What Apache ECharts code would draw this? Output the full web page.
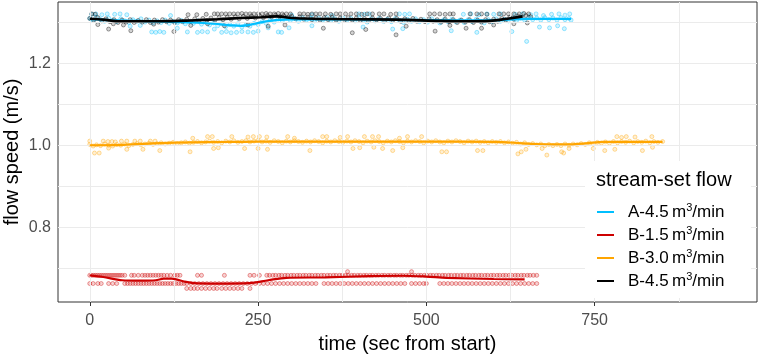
<!DOCTYPE html>
<html>
<head>
<meta charset="utf-8">
<script src="https://cdn.jsdelivr.net/npm/echarts@6/dist/echarts.min.js"></script>
<style>
  html, body { margin: 0; padding: 0; background: #fff; }
  #chart { width: 759px; height: 356px; }
</style>
</head>
<body>
<div id="chart"></div>
<script>
// axis ticks (ggplot-like: major + minor grid)
const xTicks = [0, 250, 500, 750];
const xMinor = [125, 375, 625, 875];
const yTicks = [0.8, 1.0, 1.2];
const yMinor = [0.7, 0.9, 1.1, 1.3];

const names = ['A-4.5', 'B-1.5', 'B-3.0', 'B-4.5'];
const colors = ['#00BFFF', '#CD0000', '#FFA500', '#000000'];

// A-4.5 points [time, speed]
const ptsA45 = [
  [0,1.309],[5,1.304],[10,1.312],[16,1.306],[22,1.302],[28,1.310],[34,1.305],[40,1.301],[46,1.308],[52,1.303],
  [58,1.299],[64,1.306],[70,1.302],[76,1.308],[82,1.300],[88,1.305],[94,1.298],[100,1.303],[106,1.299],[112,1.305],
  [118,1.297],[124,1.302],[130,1.298],[136,1.304],[142,1.296],[148,1.301],[154,1.297],[160,1.303],[166,1.295],[172,1.300],
  [178,1.293],[184,1.298],[190,1.291],[196,1.296],[202,1.289],[208,1.294],[214,1.290],[220,1.296],[226,1.288],[232,1.293],
  [238,1.290],[244,1.297],[250,1.294],[256,1.301],[262,1.297],[268,1.305],[274,1.300],[280,1.308],[286,1.303],[292,1.310],
  [298,1.304],[304,1.309],[310,1.302],[316,1.311],[322,1.305],[328,1.309],[334,1.303],[340,1.310],[346,1.305],[352,1.311],
  [358,1.304],[364,1.308],[370,1.302],[376,1.310],[382,1.305],[388,1.309],[394,1.303],[400,1.310],[406,1.305],[412,1.300],
  [418,1.308],[424,1.303],[430,1.309],[436,1.302],[442,1.307],[448,1.301],[454,1.309],[460,1.304],[466,1.299],[472,1.307],
  [478,1.302],[484,1.308],[490,1.301],[496,1.306],[502,1.300],[508,1.308],[514,1.303],[520,1.298],[526,1.306],[532,1.301],
  [538,1.307],[544,1.300],[550,1.305],[556,1.299],[562,1.306],[568,1.301],[574,1.307],[580,1.302],[586,1.298],[592,1.306],
  [598,1.301],[604,1.308],[610,1.302],[616,1.307],[622,1.303],[628,1.309],[634,1.304],[640,1.310],[646,1.305],[652,1.311],
  [658,1.306],[664,1.310],[670,1.305],[676,1.311],[682,1.306],[688,1.310],[694,1.305],[700,1.311],[706,1.306],[712,1.309],[715,1.305],
  [3,1.319],[9,1.320],[18,1.318],[26,1.320],[37,1.319],[45,1.320],[55,1.318],[120,1.316],[300,1.317],[330,1.318],[360,1.316],
  [400,1.320],[408,1.319],[415,1.320],[460,1.320],[468,1.319],[475,1.320],[555,1.319],[566,1.320],[578,1.318],[590,1.320],
  [600,1.319],[610,1.320],[632,1.319],[643,1.320],[655,1.318],[663,1.320],[674,1.316],[686,1.319],[697,1.320],[706,1.317],[713,1.320],
  [60,1.290],[75,1.292],[92,1.276],[98,1.275],[104,1.277],[110,1.275],[130,1.285],[145,1.276],[160,1.275],[167,1.277],
  [175,1.276],[185,1.283],[196,1.275],[203,1.277],[210,1.274],[218,1.275],[226,1.277],[235,1.276],[243,1.275],[250,1.278],
  [265,1.286],[280,1.276],[285,1.275],[296,1.286],[330,1.291],[406,1.288],[450,1.283],[465,1.284],[537,1.279],[575,1.275],
  [627,1.277],[649,1.253],[668,1.288],[683,1.286],[695,1.291],[705,1.284]
];

// B-4.5 points
const ptsB45 = [
  [0,1.309],[6,1.305],[12,1.311],[18,1.303],[24,1.308],[30,1.301],[36,1.306],[42,1.299],[48,1.305],[54,1.300],
  [60,1.306],[66,1.299],[72,1.304],[78,1.300],[84,1.306],[90,1.299],[96,1.305],[102,1.300],[108,1.306],[114,1.301],
  [120,1.305],[126,1.299],[132,1.306],[138,1.301],[144,1.307],[150,1.302],[156,1.308],[162,1.303],[168,1.309],[174,1.304],
  [180,1.310],[186,1.305],[192,1.311],[198,1.306],[204,1.312],[210,1.307],[216,1.313],[222,1.308],[228,1.314],[234,1.309],
  [240,1.315],[246,1.310],[252,1.316],[258,1.311],[264,1.316],[270,1.312],[276,1.317],[282,1.313],[288,1.316],[294,1.311],
  [300,1.314],[306,1.308],[312,1.313],[318,1.307],[324,1.312],[330,1.306],[336,1.311],[342,1.305],[348,1.311],[354,1.306],
  [360,1.312],[366,1.305],[372,1.310],[378,1.304],[384,1.311],[390,1.305],[396,1.310],[402,1.304],[408,1.309],[414,1.303],
  [420,1.310],[426,1.305],[432,1.309],[438,1.303],[444,1.310],[450,1.304],[456,1.309],[462,1.302],[468,1.308],[474,1.303],
  [480,1.309],[486,1.302],[492,1.307],[498,1.301],[504,1.308],[510,1.302],[516,1.306],[522,1.300],[528,1.307],[534,1.301],
  [540,1.306],[546,1.299],[552,1.305],[558,1.300],[564,1.306],[570,1.299],[576,1.305],[582,1.300],[588,1.306],[594,1.301],
  [600,1.307],[606,1.302],[612,1.309],[618,1.305],[624,1.312],[630,1.308],[636,1.315],[642,1.311],[648,1.316],[655,1.313],
  [3,1.320],[8,1.319],[146,1.318],[159,1.318],[173,1.319],[185,1.320],[190,1.320],[196,1.320],[202,1.320],[208,1.320],
  [214,1.320],[220,1.320],[226,1.321],[232,1.320],[238,1.320],[244,1.320],[250,1.320],[256,1.320],[262,1.321],[268,1.320],
  [274,1.320],[280,1.321],[286,1.320],[292,1.320],[298,1.320],[312,1.320],[318,1.320],[324,1.319],[330,1.320],[336,1.320],
  [342,1.320],[350,1.320],[358,1.319],[366,1.320],[372,1.320],[380,1.320],[388,1.320],[396,1.320],[404,1.319],[412,1.320],
  [420,1.320],[430,1.320],[437,1.320],[447,1.319],[455,1.320],[505,1.320],[512,1.320],[520,1.320],[528,1.319],[535,1.320],
  [540,1.320],[565,1.320],[575,1.320],[582,1.320],[590,1.319],[608,1.320],[615,1.320],[622,1.320],[630,1.320],[638,1.320],
  [645,1.321],[652,1.320],
  [12,1.294],[28,1.283],[35,1.296],[50,1.293],[61,1.279],[95,1.295],[125,1.277],[150,1.292],[175,1.296],[200,1.291],
  [235,1.293],[265,1.290],[290,1.293],[347,1.285],[390,1.274],[410,1.282],[455,1.269],[470,1.290],[513,1.278],[535,1.292],
  [559,1.285],[582,1.285],[600,1.293],[630,1.296],[650,1.298]
];

// B-3.0 points
const ptsB30 = [
  [0,1.002],[5,0.998],[10,1.001],[16,0.999],[22,1.003],[28,1.000],[34,0.998],[40,1.002],[46,1.000],[52,1.003],
  [58,0.999],[64,1.002],[70,1.004],[76,1.001],[82,1.003],[88,1.005],[94,1.002],[100,1.004],[106,1.006],[112,1.003],
  [118,1.005],[124,1.007],[130,1.004],[136,1.006],[142,1.008],[148,1.005],[154,1.007],[160,1.009],[166,1.006],[172,1.008],
  [178,1.010],[184,1.007],[190,1.009],[196,1.006],[202,1.010],[208,1.008],[214,1.011],[220,1.007],[226,1.009],[232,1.011],
  [238,1.008],[244,1.010],[250,1.012],[256,1.008],[262,1.010],[268,1.007],[274,1.011],[280,1.009],[286,1.006],[292,1.010],
  [298,1.008],[304,1.011],[310,1.009],[316,1.007],[322,1.010],[328,1.008],[334,1.011],[340,1.009],[346,1.006],[352,1.010],
  [358,1.008],[364,1.011],[370,1.009],[376,1.007],[382,1.010],[388,1.008],[394,1.011],[400,1.009],[406,1.006],[412,1.010],
  [418,1.008],[424,1.011],[430,1.009],[436,1.006],[442,1.010],[448,1.008],[454,1.011],[460,1.009],[466,1.006],[472,1.010],
  [478,1.008],[484,1.011],[490,1.009],[496,1.006],[502,1.010],[508,1.008],[514,1.011],[520,1.008],[526,1.006],[532,1.010],
  [538,1.008],[544,1.011],[550,1.009],[556,1.006],[562,1.010],[568,1.008],[574,1.010],[580,1.007],[586,1.009],[592,1.006],
  [598,1.009],[604,1.007],[610,1.009],[616,1.006],[622,1.008],[628,1.005],[634,1.007],[640,1.003],[646,1.006],[652,1.002],
  [658,1.004],[664,1.001],[670,1.003],[676,0.999],[682,1.002],[688,0.999],[694,1.002],[700,0.999],[706,1.003],[712,1.000],
  [718,1.003],[724,1.001],[730,1.004],[736,1.002],[742,1.006],[748,1.003],[754,1.007],[760,1.005],[766,1.008],[772,1.005],
  [778,1.009],[784,1.006],[790,1.009],[796,1.007],[802,1.010],[808,1.006],[814,1.009],[820,1.007],[826,1.010],[832,1.006],
  [838,1.009],[844,1.007],[851,1.009],
  [0,1.010],[20,1.010],[27,1.009],[33,1.009],[38,1.008],[47,1.010],[55,1.010],[67,1.010],[75,1.010],[90,1.010],
  [97,1.010],[153,1.017],[175,1.021],[182,1.021],[211,1.021],[235,1.020],[243,1.021],[252,1.021],[263,1.020],[294,1.021],
  [304,1.017],[346,1.021],[352,1.021],[372,1.019],[383,1.021],[408,1.021],[420,1.021],[429,1.021],[460,1.017],[472,1.021],
  [493,1.021],[783,1.021],[790,1.019],[797,1.021],[810,1.020],[835,1.021],
  [7,0.981],[14,0.981],[28,0.993],[55,0.990],[79,0.990],[104,0.987],[149,0.984],[184,0.992],[191,0.994],[230,0.992],
  [250,0.992],[264,0.990],[327,0.987],[391,0.992],[401,0.994],[422,0.995],[435,0.992],[450,0.987],[465,0.994],[523,0.984],
  [530,0.984],[576,0.987],[584,0.987],[636,0.979],[641,0.984],[648,0.990],[672,0.992],[679,0.976],[701,0.984],[704,0.981],
  [712,0.992],[748,0.992],[765,0.987],[780,0.990],[821,0.987],[836,0.995]
];

// B-1.5 speeds come in three levels; times read for each level
const levelsB15 = [0.683, 0.663, 0.651];
const timesB15Hi = [
  0,3,6,9,12,15,18,21,24,27,30,33,36,39,42,45,48,52,62,66,72,78,82,86,90,94,98,102,106,110,115,120,126,130,134,
  160,166,200,238,244,252,263,267,272,276,281,285,290,294,299,303,308,312,317,321,326,330,335,339,344,348,353,357,
  362,366,371,375,380,384,389,393,398,402,407,411,416,420,425,429,434,438,443,447,452,456,461,465,470,474,479,483,
  488,492,497,501,506,510,515,519,524,528,533,537,542,546,551,555,560,564,569,573,578,582,587,591,596,600,605,609,
  614,618,623,627,632,636,641,645,650,654,659,664
];
const timesB15Lo = [
  0,5,12,17,28,34,40,52,56,60,64,68,72,76,80,84,88,92,96,100,104,108,112,116,120,124,128,132,136,140,144,150,156,162,
  168,174,180,186,192,198,204,210,216,222,228,234,240,246,252,258,264,270,276,282,288,294,300,306,312,318,324,330,336,
  348,354,360,366,372,378,384,390,396,402,408,414,420,426,432,438,444,450,456,462,468,478,484,490,496,500,520,526,532,
  538,544,550,556,562,568,574,580,586,592,598,604,610,616,622,628,634,640,646,652,658,664
];
const timesB15Bot = [144,150,155,160,166,172,178,184,189,196,202,208,214,220,226,238];
const extraB15 = [[383,0.692],[478,0.692]];

// smoothed trend lines
const fitA45 = [[0,1.307],[30,1.305],[70,1.303],[110,1.301],[150,1.299],[185,1.296],[210,1.292],[225,1.291],[245,1.296],
  [262,1.302],[290,1.306],[340,1.307],[420,1.306],[500,1.305],[560,1.304],[610,1.305],[650,1.308],[690,1.308],[715,1.308]];
const fitB15 = [[0,0.683],[20,0.679],[48,0.671],[75,0.670],[98,0.671],[110,0.675],[122,0.675],[140,0.668],[155,0.664],
  [190,0.663],[237,0.664],[265,0.671],[292,0.677],[350,0.678],[416,0.681],[465,0.682],[500,0.680],[530,0.677],[600,0.674],[646,0.673]];
const fitB30 = [[0,1.000],[50,1.001],[104,1.005],[150,1.007],[200,1.008],[250,1.009],[350,1.009],[450,1.009],[550,1.009],
  [600,1.008],[630,1.006],[663,1.003],[690,1.002],[713,1.002],[740,1.005],[762,1.008],[800,1.008],[851,1.008]];
const fitB45 = [[0,1.308],[20,1.306],[45,1.302],[80,1.302],[110,1.302],[150,1.304],[190,1.307],[225,1.310],[255,1.312],
  [278,1.314],[300,1.310],[335,1.308],[380,1.307],[455,1.306],[520,1.303],[554,1.302],[594,1.303],[623,1.309],[643,1.314]];

const ptsB15 = timesB15Hi.map(t => [t, levelsB15[0]])
  .concat(timesB15Lo.map(t => [t, levelsB15[1]]))
  .concat(timesB15Bot.map(t => [t, levelsB15[2]]))
  .concat(extraB15);

const FONT = '"Liberation Sans", Arial, sans-serif';

function rgba(hex, a) {
  const n = parseInt(hex.slice(1), 16);
  return `rgba(${(n >> 16) & 255},${(n >> 8) & 255},${n & 255},${a})`;
}

function pointSeries(i, data) {
  return {
    name: names[i] + ' pts',
    type: 'scatter',
    data: data,
    symbol: 'circle',
    symbolSize: 4,
    z: 3,
    itemStyle: {
      color: rgba(colors[i], 0.22),
      borderColor: rgba(colors[i], 0.6),
      borderWidth: 0.8
    },
    emphasis: { disabled: true }
  };
}

function fitSeries(i, data) {
  return {
    name: names[i],
    type: 'line',
    data: data,
    smooth: 0.3,
    showSymbol: false,
    z: 5,
    lineStyle: { color: colors[i], width: i === 3 ? 2.6 : 2.2 },
    itemStyle: { color: colors[i] }
  };
}

const gridLines = xTicks.concat(xMinor).map(v => ({ xAxis: v }))
  .concat(yTicks.concat(yMinor).map(v => ({ yAxis: v })));

const chart = echarts.init(document.getElementById('chart'));
chart.setOption({
  animation: false,
  textStyle: { fontFamily: FONT },
  grid: {
    left: 58, right: 2, top: 2, bottom: 54,
    outerBoundsMode: 'none',
    containLabel: false,
    show: true, borderColor: '#333', borderWidth: 1, backgroundColor: 'transparent'
  },
  xAxis: {
    type: 'value',
    min: -47.2,
    max: 991.2,
    axisLine: { show: false },
    axisTick: { show: true, customValues: xTicks, length: 4, lineStyle: { color: '#333' } },
    axisLabel: { customValues: xTicks, color: '#4d4d4d', fontSize: 16, margin: 11, fontFamily: FONT },
    splitLine: { show: false },
    name: 'time (sec from start)',
    nameLocation: 'middle',
    nameGap: 32,
    nameTextStyle: { fontSize: 20, color: '#000', fontFamily: FONT }
  },
  yAxis: {
    type: 'value',
    min: 0.618,
    max: 1.349,
    axisLine: { show: false },
    axisTick: { show: true, customValues: yTicks, length: 4, lineStyle: { color: '#333' } },
    axisLabel: {
      customValues: yTicks, color: '#4d4d4d', fontSize: 16, margin: 7, fontFamily: FONT,
      formatter: v => v.toFixed(1)
    },
    splitLine: { show: false },
    name: 'flow speed (m/s)',
    nameLocation: 'middle',
    nameGap: 36,
    nameMoveOverlap: false,
    nameTextStyle: { fontSize: 20, color: '#000', fontFamily: FONT }
  },
  legend: {
    data: names,
    orient: 'vertical',
    left: 597,
    top: 202,
    padding: 0,
    itemWidth: 17,
    itemHeight: 2,
    itemGap: 3,
    icon: 'rect',
    selectedMode: false,
    z: 60,
    formatter: n => n + '\u2009m{sup|3}/min',
    textStyle: {
      fontSize: 17, color: '#000', fontFamily: FONT, lineHeight: 20, padding: [0, 0, 0, 9],
      rich: { sup: { fontSize: 11, verticalAlign: 'top', lineHeight: 12, fontFamily: FONT } }
    }
  },
  graphic: [
    { type: 'rect', z: 50, shape: { x: 585, y: 161, width: 166, height: 137 }, style: { fill: '#fff' } },
    { type: 'text', z: 51, x: 596, y: 180,
      style: { text: 'stream-set flow', fontSize: 20, fontFamily: FONT, fill: '#000', verticalAlign: 'middle' } }
  ],
  series: [
    {
      name: 'grid', type: 'line', data: [], z: 1, silent: true,
      markLine: {
        silent: true, symbol: 'none', animation: false, label: { show: false },
        lineStyle: { color: '#ebebeb', type: 'solid', width: 1 },
        data: gridLines
      }
    },
    pointSeries(0, ptsA45),
    pointSeries(1, ptsB15),
    pointSeries(2, ptsB30),
    pointSeries(3, ptsB45),
    fitSeries(0, fitA45),
    fitSeries(1, fitB15),
    fitSeries(2, fitB30),
    fitSeries(3, fitB45)
  ]
});
</script>
</body>
</html>
